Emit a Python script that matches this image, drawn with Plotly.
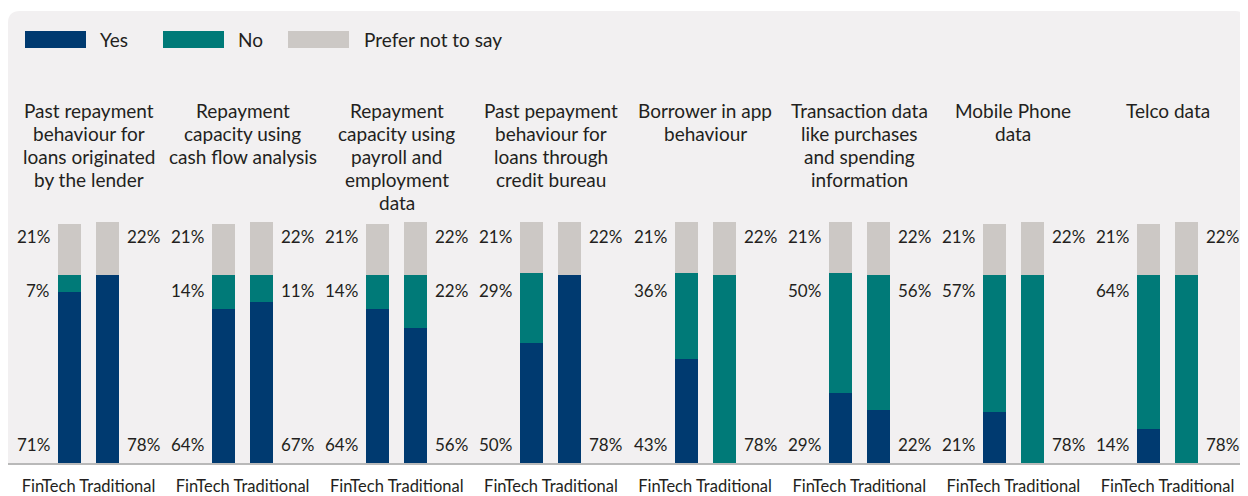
import plotly.graph_objects as go

# ---------------- data ----------------
categories = [
    ["Past repayment", "behaviour for", "loans originated", "by the lender"],
    ["Repayment", "capacity using", "cash flow analysis"],
    ["Repayment", "capacity using", "payroll and", "employment", "data"],
    ["Past pepayment", "behaviour for", "loans through", "credit bureau"],
    ["Borrower in app", "behaviour"],
    ["Transaction data", "like purchases", "and spending", "information"],
    ["Mobile Phone", "data"],
    ["Telco data"],
]
lender_types = ["FinTech", "Traditional"]
series_names = ["Yes", "No", "Prefer not to say"]

fintech_yes = [71, 64, 64, 50, 43, 29, 21, 14]
fintech_no = [7, 14, 14, 29, 36, 50, 57, 64]
fintech_pns = [21, 21, 21, 21, 21, 21, 21, 21]
trad_yes = [78, 67, 56, 78, 0, 22, 0, 0]
trad_no = [0, 11, 22, 0, 78, 56, 78, 78]
trad_pns = [22, 22, 22, 22, 22, 22, 22, 22]

# ---------------- style ----------------
BODY = 8                       # default page margin of the html body
W, H = 1248 - BODY, 496 - BODY  # figure size so the page is exactly filled
PLOT_TOP, PLOT_BOT = 11, 463    # page pixels of the panel / axis line
ML, MR = 0, 0
MT, MB = PLOT_TOP - BODY, 496 - PLOT_BOT
PW, PH = W - ML - MR, H - MT - MB
COLORS = ["#003a70", "#007a78", "#ccc8c5"]
PANEL = "#f2f0f1"
TXT = "#231f20"
FONT = "Lato"

GROUP0, GROUP_STEP = 88.5, 154.15   # x axis in page-pixel units
HALF_GAP = 19
BAR_W = 23
Y_TOP = 100 * PH / 241.0             # 100 % -> 241 px


def px_x(p):
    return (p - BODY - ML) / PW


def px_y(p):
    return (PLOT_BOT - p) / PH


centers = [GROUP0 + GROUP_STEP * i for i in range(len(categories))]
bar_x = []
for c in centers:
    bar_x += [c - HALF_GAP, c + HALF_GAP]

series = [
    [v for pair in zip(fintech_yes, trad_yes) for v in pair],
    [v for pair in zip(fintech_no, trad_no) for v in pair],
    [v for pair in zip(fintech_pns, trad_pns) for v in pair],
]

fig = go.Figure()
for name, vals, col in zip(series_names, series, COLORS):
    fig.add_trace(go.Bar(
        x=bar_x, y=vals, name=name, width=BAR_W,
        marker=dict(color=col, line=dict(width=0)),
        showlegend=False, hoverinfo="name+y",
    ))

annotations = []
for c, lines in zip(centers, categories):
    for k, line in enumerate(lines):
        annotations.append(dict(
            x=c, xref="x", y=px_y(110.5 + 23 * k), yref="paper",
            text=line, showarrow=False, xanchor="center", yanchor="middle",
            font=dict(family=FONT, size=19, color=TXT),
        ))

ROW_TOP, ROW_MID, ROW_BOT = 94, 71.5, 7.5
for i, c in enumerate(centers):
    for side, yes, no, pns in (
        (-1, fintech_yes[i], fintech_no[i], fintech_pns[i]),
        (1, trad_yes[i], trad_no[i], trad_pns[i]),
    ):
        labels = [(ROW_TOP, pns)]
        if yes > 0 and no > 0:
            labels.append((ROW_MID, no))
        labels.append((ROW_BOT, yes if yes > 0 else no))
        for yv, v in labels:
            annotations.append(dict(
                x=c + side * HALF_GAP, xref="x", y=yv, yref="y",
                text=f"{v}%", showarrow=False,
                xanchor="right" if side < 0 else "left", yanchor="middle",
                xshift=side * (BAR_W / 2 + 6),
                font=dict(family=FONT, size=17, color=TXT),
            ))

shapes = []
legend_items = [(25, 98), (163, 236), (288, 362)]
for (sx, tx), name, col in zip(legend_items, series_names, COLORS):
    shapes.append(dict(type="rect", xref="paper", yref="paper",
                       x0=px_x(sx), x1=px_x(sx + 61), y0=px_y(48), y1=px_y(31),
                       fillcolor=col, line=dict(width=0), layer="above"))
    annotations.append(dict(
        x=px_x(tx), xref="paper", y=px_y(39.5), yref="paper", text=name,
        showarrow=False, xanchor="left", yanchor="middle",
        font=dict(family=FONT, size=19, color=TXT),
    ))

x0, x1, yt, yb, r = px_x(8), px_x(1247), px_y(11), px_y(463), 12
rx, ry = r / PW, r / PH
path = (f"M{x0},{yb} L{x0},{yt - ry} Q{x0},{yt} {x0 + rx},{yt} "
        f"L{x1 - rx},{yt} Q{x1},{yt} {x1},{yt - ry} L{x1},{yb} Z")
shapes.insert(0, dict(type="path", path=path, xref="paper", yref="paper",
                      fillcolor=PANEL, line=dict(width=0), layer="below"))

fig.update_layout(
    width=W, height=H, autosize=False,
    margin=dict(l=ML, r=MR, t=MT, b=MB, pad=0, autoexpand=False),
    barmode="stack", bargap=0,
    paper_bgcolor="white", plot_bgcolor="rgba(0,0,0,0)",
    font=dict(family=FONT, color=TXT),
    annotations=annotations, shapes=shapes, showlegend=False,
    xaxis=dict(range=[BODY, 1248], tickvals=centers,
               ticktext=[" ".join(lender_types)] * len(centers),
               tickfont=dict(family=FONT, size=16.5, color=TXT),
               showgrid=False, zeroline=False, showline=True,
               linecolor="#b9b9b9", linewidth=2, ticks="",
               ticklabelstandoff=7, automargin=False, fixedrange=True),
    yaxis=dict(range=[0, Y_TOP], visible=False, showgrid=False,
               zeroline=False, automargin=False, fixedrange=True),
)

fig.write_html("out.html")
